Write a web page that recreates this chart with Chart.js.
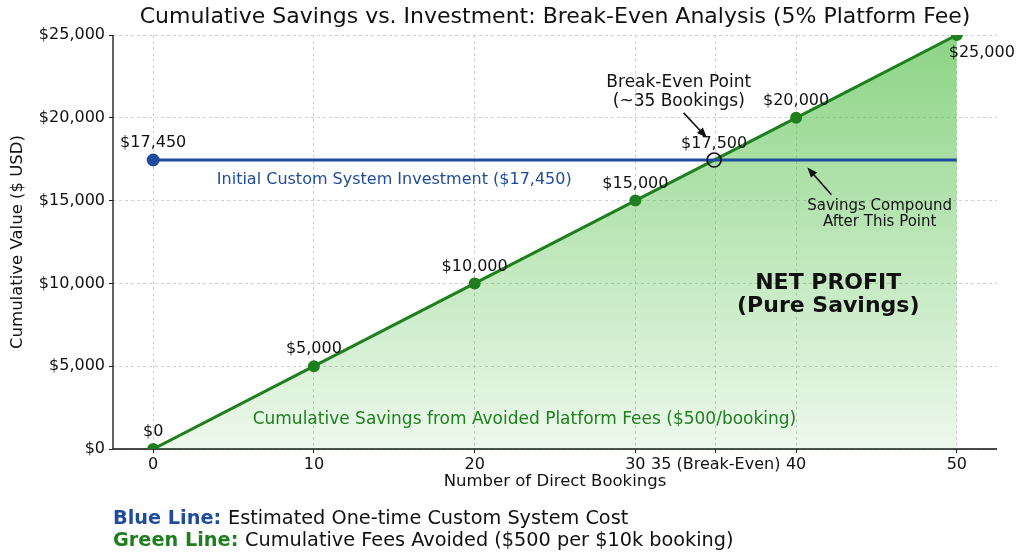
<!DOCTYPE html>
<html>
<head>
<meta charset="utf-8">
<script src="https://cdn.jsdelivr.net/npm/chart.js@4/dist/chart.umd.min.js"></script>
<style>
  html, body { margin: 0; padding: 0; background: #ffffff; }
  #wrap { width: 1024px; height: 559px; position: relative; }
</style>
</head>
<body>
<div id="wrap"><canvas id="chartBreakEven" width="1024" height="559"></canvas></div>
<script>
// data
var bookings = [0, 10, 20, 30, 40, 50];
var savings = [0, 5000, 10000, 15000, 20000, 25000];
var investmentX = [0, 50];
var investmentY = [17450, 17450];
var breakEvenX = [34.9];
var breakEvenY = [17450];
var xTicks = [0, 10, 20, 30, 35, 40, 50];
var xTickLabels = ['0', '10', '20', '30', '35 (Break-Even)', '40', '50'];
var yTicks = [0, 5000, 10000, 15000, 20000, 25000];

var FONT = "'DejaVu Sans', sans-serif";
var BLUE = '#1f4c9c';
var GREEN = '#1f7f1f';

function money(v) {
    return '$' + v.toLocaleString('en-US');
}

var annotations = {
    id: 'annotations',
    afterDatasetsDraw: function(chart) {
        var ctx = chart.ctx;
        var xs = chart.scales.x, ys = chart.scales.y;
        var X = function(v) { return xs.getPixelForValue(v); };
        var Y = function(v) { return ys.getPixelForValue(v); };
        ctx.save();
        ctx.textAlign = 'center';
        ctx.textBaseline = 'middle';

        // point labels on the green line
        ctx.fillStyle = '#111';
        ctx.font = '16px ' + FONT;
        bookings.forEach(function(b, i) {
            var px = X(b), py = Y(savings[i]);
            if (i === bookings.length - 1) {
                ctx.fillText(money(savings[i]), px + 25, py + 18);
            } else {
                ctx.fillText(money(savings[i]), px, py - 17);
            }
        });
        ctx.fillText(money(investmentY[0]), X(0), Y(investmentY[0]) - 17);
        ctx.fillText(money(17500), X(breakEvenX[0]), Y(breakEvenY[0]) - 16);

        // line captions
        ctx.font = '16px ' + FONT;
        ctx.fillStyle = BLUE;
        ctx.fillText('Initial Custom System Investment ($17,450)', X(15), Y(16250));
        ctx.fillStyle = GREEN;
        ctx.font = '17px ' + FONT;
        ctx.fillText('Cumulative Savings from Avoided Platform Fees ($500/booking)', X(23.1), Y(1800));

        // break-even callout
        ctx.fillStyle = '#111';
        ctx.font = '17px ' + FONT;
        ctx.fillText('Break-Even Point', X(32.7), Y(22150));
        ctx.fillText('(~35 Bookings)', X(32.7), Y(20950));
        drawArrow(ctx, X(33.0), Y(20300), X(34.45), Y(18800));

        ctx.font = '15px ' + FONT;
        ctx.fillText('Savings Compound', X(45.2), Y(14650));
        ctx.fillText('After This Point', X(45.2), Y(13680));
        drawArrow(ctx, X(42.2), Y(15350), X(40.7), Y(17000));

        ctx.font = 'bold 22px ' + FONT;
        ctx.fillText('NET PROFIT', X(42), Y(10030));
        ctx.fillText('(Pure Savings)', X(42), Y(8630));

        // titles
        var area = chart.chartArea;
        var cx = (area.left + area.right) / 2;
        ctx.font = '22px ' + FONT;
        ctx.fillStyle = '#111';
        ctx.fillText('Cumulative Savings vs. Investment: Break-Even Analysis (5% Platform Fee)', cx, 17);
        ctx.font = '16.5px ' + FONT;
        ctx.fillText('Number of Direct Bookings', cx, 482);
        ctx.save();
        ctx.translate(18, (area.top + area.bottom) / 2);
        ctx.rotate(-Math.PI / 2);
        ctx.fillText('Cumulative Value ($ USD)', 0, 0);
        ctx.restore();

        // footer notes
        ctx.textAlign = 'left';
        var rows = [
            ['Blue Line: ', BLUE, 'Estimated One-time Custom System Cost', 519],
            ['Green Line: ', GREEN, 'Cumulative Fees Avoided ($500 per $10k booking)', 541]
        ];
        rows.forEach(function(r) {
            ctx.font = 'bold 19.3px ' + FONT;
            ctx.fillStyle = r[1];
            ctx.fillText(r[0], 113, r[3]);
            var w = ctx.measureText(r[0]).width;
            ctx.font = '19.3px ' + FONT;
            ctx.fillStyle = '#111';
            ctx.fillText(r[2], 113 + w, r[3]);
        });
        ctx.restore();
    }
};

function drawArrow(ctx, x1, y1, x2, y2) {
    var ang = Math.atan2(y2 - y1, x2 - x1);
    var head = 11;
    ctx.save();
    ctx.strokeStyle = '#111';
    ctx.fillStyle = '#111';
    ctx.lineWidth = 1.6;
    ctx.beginPath();
    ctx.moveTo(x1, y1);
    ctx.lineTo(x2 - Math.cos(ang) * head * 0.8, y2 - Math.sin(ang) * head * 0.8);
    ctx.stroke();
    ctx.beginPath();
    ctx.moveTo(x2, y2);
    ctx.lineTo(x2 - head * Math.cos(ang - 0.38), y2 - head * Math.sin(ang - 0.38));
    ctx.lineTo(x2 - head * Math.cos(ang + 0.38), y2 - head * Math.sin(ang + 0.38));
    ctx.closePath();
    ctx.fill();
    ctx.restore();
}

// drawn after the grid, before the datasets
var spines = {
    id: 'spines',
    beforeDatasetsDraw: function(chart) {
        var a = chart.chartArea, ctx = chart.ctx;
        ctx.save();
        ctx.strokeStyle = '#111';
        ctx.lineWidth = 1.3;
        ctx.beginPath();
        ctx.moveTo(a.left, a.top);
        ctx.lineTo(a.left, a.bottom);
        ctx.lineTo(a.right, a.bottom);
        ctx.stroke();
        ctx.restore();
    }
};

function greenFill(context) {
    var area = context.chart.chartArea;
    if (!area) return 'rgba(90,190,80,0.4)';
    var g = context.chart.ctx.createLinearGradient(0, area.top, 0, area.bottom);
    g.addColorStop(0, 'rgba(80,190,70,0.66)');
    g.addColorStop(0.5, 'rgba(80,190,70,0.38)');
    g.addColorStop(1, 'rgba(80,190,70,0.10)');
    return g;
}

var gridStyle = {
    color: '#d0d0d0',
    lineWidth: 1,
    drawTicks: true,
    tickLength: 4,
    tickColor: '#222',
    tickBorderDash: []
};
var borderStyle = { display: false, dash: [3, 3] };

var ctx = document.getElementById('chartBreakEven');
var myChart = new Chart(ctx, {
    type: 'line',
    data: {
        datasets: [{
            label: 'Custom System Cost',
            data: investmentX.map(function(x, i) { return { x: x, y: investmentY[i] }; }),
            borderColor: BLUE,
            backgroundColor: BLUE,
            borderWidth: 3,
            pointRadius: [5, 0],
            pointHoverRadius: [5, 0],
            fill: false,
            order: 1
        }, {
            label: 'Cumulative Savings',
            data: bookings.map(function(b, i) { return { x: b, y: savings[i] }; }),
            borderColor: GREEN,
            backgroundColor: greenFill,
            pointBackgroundColor: GREEN,
            pointBorderColor: GREEN,
            borderWidth: 3,
            pointRadius: 4.5,
            fill: 'origin',
            order: 2
        }, {
            label: 'Break-Even',
            data: breakEvenX.map(function(x, i) { return { x: x, y: breakEvenY[i] }; }),
            showLine: false,
            pointRadius: 7,
            pointBorderColor: '#111',
            pointBackgroundColor: 'rgba(0,0,0,0)',
            pointBorderWidth: 1.6,
            order: 0
        }]
    },
    plugins: [spines, annotations],
    options: {
        responsive: false,
        animation: false,
        layout: { padding: { top: 35, right: 27, left: 0, bottom: 0 } },
        plugins: {
            legend: { display: false },
            tooltip: { enabled: false }
        },
        scales: {
            x: {
                type: 'linear',
                min: -2.5,
                max: 52.5,
                afterBuildTicks: function(scale) {
                    scale.ticks = xTicks.map(function(v) { return { value: v }; });
                },
                afterFit: function(scale) { scale.height = 110; },
                ticks: {
                    autoSkip: false,
                    maxRotation: 0,
                    padding: 2,
                    color: '#111',
                    font: { family: FONT, size: 16 },
                    callback: function(v) {
                        var i = xTicks.indexOf(v);
                        return i >= 0 ? xTickLabels[i] : '';
                    }
                },
                grid: gridStyle,
                border: borderStyle
            },
            y: {
                min: 0,
                max: 25000,
                afterBuildTicks: function(scale) {
                    scale.ticks = yTicks.map(function(v) { return { value: v }; });
                },
                afterFit: function(scale) { scale.width = 113; },
                ticks: {
                    padding: 4,
                    color: '#111',
                    font: { family: FONT, size: 16 },
                    callback: function(v) { return money(v); }
                },
                grid: gridStyle,
                border: borderStyle
            }
        }
    }
});
</script>
</body>
</html>
